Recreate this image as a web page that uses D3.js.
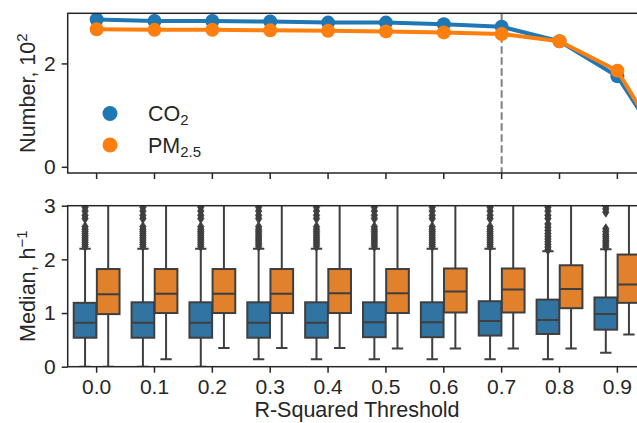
<!DOCTYPE html>
<html>
<head>
<meta charset="utf-8">
<script src="https://cdn.jsdelivr.net/npm/d3@7"></script>
<style>
  html, body { margin: 0; padding: 0; background: #fff; }
  svg { display: block; font-family: "Liberation Sans", Arial, sans-serif; }
</style>
</head>
<body>
<svg id="chart" width="637" height="423"></svg>
<script>
// ---------------- DATA ----------------
const thresholds = ["0.0","0.1","0.2","0.3","0.4","0.5","0.6","0.7","0.8","0.9"];
// Top panel: number of series (×10²) kept at each R² threshold (1.0 lies just past the right edge)
const countThresholds = [0.0,0.1,0.2,0.3,0.4,0.5,0.6,0.7,0.8,0.9,1.0];
const co2Count = [2.85,2.82,2.82,2.81,2.79,2.79,2.76,2.71,2.43,1.75,0.02];
const pmCount  = [2.66,2.65,2.65,2.64,2.63,2.62,2.60,2.57,2.43,1.86,0.02];
const selectedThreshold = 0.7;

// Bottom panel: box statistics of the median rate (h⁻¹)
const co2Lo  = [0.00,0.00,0.00,0.14,0.14,0.14,0.14,0.14,0.14,0.26];
const co2Q1  = [0.54,0.54,0.54,0.54,0.54,0.55,0.55,0.58,0.61,0.69];
const co2Med = [0.82,0.82,0.82,0.82,0.82,0.83,0.83,0.85,0.87,0.98];
const co2Q3  = [1.19,1.20,1.20,1.20,1.20,1.20,1.20,1.22,1.25,1.29];
const co2Hi  = [2.20,2.20,2.20,2.20,2.20,2.20,2.20,2.20,2.15,2.19];
const co2Outliers = [
  [2.24,2.28,2.32,2.36,2.40,2.44,2.48,2.52,2.56,2.61,2.76,2.82,2.90,2.97],
  [2.24,2.28,2.32,2.36,2.40,2.44,2.48,2.52,2.56,2.61,2.76,2.82,2.90,2.97],
  [2.24,2.28,2.32,2.36,2.40,2.44,2.48,2.52,2.56,2.61,2.76,2.82,2.90,2.97],
  [2.24,2.28,2.32,2.36,2.40,2.44,2.48,2.52,2.56,2.61,2.76,2.82,2.90,2.97],
  [2.24,2.28,2.32,2.36,2.40,2.44,2.48,2.52,2.56,2.61,2.76,2.82,2.90,2.97],
  [2.24,2.28,2.32,2.36,2.40,2.44,2.48,2.52,2.56,2.61,2.76,2.82,2.90,2.97],
  [2.24,2.28,2.32,2.36,2.40,2.44,2.48,2.52,2.56,2.61,2.76,2.82,2.90,2.97],
  [2.24,2.28,2.32,2.36,2.40,2.44,2.48,2.52,2.56,2.61,2.76,2.82,2.90,2.97],
  [2.18,2.23,2.28,2.33,2.38,2.43,2.48,2.54,2.60,2.66,2.76,2.82,2.90,2.97],
  [2.23,2.27,2.31,2.35,2.39,2.43,2.47,2.52,2.57,2.88,2.94,2.99]
];
const pmLo  = [0.00,0.14,0.35,0.35,0.35,0.34,0.34,0.34,0.34,0.60];
const pmQ1  = [0.98,1.00,1.00,1.00,1.00,1.00,1.01,1.01,1.09,1.19];
const pmMed = [1.35,1.36,1.36,1.36,1.37,1.37,1.40,1.44,1.45,1.53];
const pmQ3  = [1.82,1.82,1.82,1.82,1.82,1.82,1.83,1.83,1.89,2.09];
const pmHi  = [3.30,3.30,3.30,3.30,3.30,3.30,3.30,3.30,3.30,3.30];

const yTicksTop = [0, 2];
const yTicksBottom = [0, 1, 2, 3];

// ---------------- LAYOUT ----------------
const svg = d3.select("#chart");
const L = 67.7, R = 646.3;
const T1 = 13.3, B1 = 173;
const T2 = 205.7, B2 = 366.7;
const axisColor = "#262626";
const boxEdge = "#3f3f3f";
const lineBlue = "#1f77b4", lineOrange = "#ff7f0e";
const boxBlue = "#3274a1", boxOrange = "#e1812c";
const fsTick = 21, fsLabel = 21.5, fsSup = 15;

const xBand = d3.scaleBand().domain(thresholds).range([L, R]).padding(0);
const xLin = d3.scaleLinear().domain([-0.05, 0.95]).range([L, R]);
const y1 = d3.scaleLinear().domain([-0.12, 2.97]).range([B1, T1]);
const y2 = d3.scaleLinear().domain([0, 3]).range([B2, T2]);

const defs = svg.append("defs");
defs.append("clipPath").attr("id", "clipTop").append("rect")
  .attr("x", L).attr("y", T1).attr("width", R - L).attr("height", B1 - T1);
defs.append("clipPath").attr("id", "clipBot").append("rect")
  .attr("x", L).attr("y", T2).attr("width", R - L).attr("height", B2 - T2);

// ---------------- TOP PANEL ----------------
const topG = svg.append("g");
const topPlot = topG.append("g").attr("clip-path", "url(#clipTop)");

topPlot.append("line")
  .attr("x1", xLin(selectedThreshold)).attr("x2", xLin(selectedThreshold))
  .attr("y1", T1).attr("y2", B1)
  .attr("stroke", "#7f7f7f").attr("stroke-width", 2)
  .attr("stroke-dasharray", "7.5,3.5");

const lineGen = d3.line().x((d, i) => xLin(countThresholds[i])).y(d => y1(d));
[[co2Count, lineBlue], [pmCount, lineOrange]].forEach(([vals, col]) => {
  topPlot.append("path").datum(vals)
    .attr("d", lineGen).attr("fill", "none")
    .attr("stroke", col).attr("stroke-width", 4).attr("stroke-linejoin", "round");
  topPlot.selectAll(null).data(vals).enter().append("circle")
    .attr("cx", (d, i) => xLin(countThresholds[i])).attr("cy", d => y1(d))
    .attr("r", 7).attr("fill", col);
});

topG.append("rect").attr("x", L).attr("y", T1).attr("width", R - L).attr("height", B1 - T1)
  .attr("fill", "none").attr("stroke", axisColor).attr("stroke-width", 1.5);

topG.append("g").attr("transform", `translate(${L},0)`)
  .call(d3.axisLeft(y1).tickValues(yTicksTop).tickSize(6).tickPadding(6).tickFormat(d3.format("d")));
topG.append("g").attr("transform", `translate(0,${B1})`)
  .call(d3.axisBottom(xBand).tickSize(6).tickFormat(""));

const yl1 = topG.append("text")
  .attr("transform", `translate(35,${(T1 + B1) / 2}) rotate(-90)`)
  .attr("text-anchor", "middle").attr("font-size", fsLabel).attr("fill", axisColor);
yl1.append("tspan").text("Number, 10");
yl1.append("tspan").attr("font-size", fsSup).attr("dy", -8).text("2");

const legend = topG.append("g");
const legItems = [
  { col: lineBlue, main: "CO", sub: "2", y: 113.5 },
  { col: lineOrange, main: "PM", sub: "2.5", y: 145 }
];
legItems.forEach(it => {
  legend.append("circle").attr("cx", 110).attr("cy", it.y).attr("r", 7.5).attr("fill", it.col);
  const t = legend.append("text").attr("x", 148).attr("y", it.y + 7.5)
    .attr("font-size", fsLabel).attr("fill", axisColor);
  t.append("tspan").text(it.main);
  t.append("tspan").attr("font-size", fsSup).attr("dy", 4).text(it.sub);
});

// ---------------- BOTTOM PANEL ----------------
const botG = svg.append("g");
const botPlot = botG.append("g").attr("clip-path", "url(#clipBot)");
const step = xBand.bandwidth();
const bw = step * 0.392;

function drawBoxes(lo, q1, med, q3, hi, outl, fill, offset) {
  thresholds.forEach((cat, i) => {
    const cx = xBand(cat) + step / 2 + offset * step;
    const g = botPlot.append("g");
    g.append("line").attr("x1", cx).attr("x2", cx).attr("y1", y2(q3[i])).attr("y2", y2(hi[i]))
      .attr("stroke", boxEdge).attr("stroke-width", 2);
    g.append("line").attr("x1", cx).attr("x2", cx).attr("y1", y2(q1[i])).attr("y2", y2(lo[i]))
      .attr("stroke", boxEdge).attr("stroke-width", 2);
    [lo[i], hi[i]].forEach(v => {
      g.append("line").attr("x1", cx - bw / 4).attr("x2", cx + bw / 4)
        .attr("y1", y2(v)).attr("y2", y2(v))
        .attr("stroke", boxEdge).attr("stroke-width", 2);
    });
    g.append("rect").attr("x", cx - bw / 2).attr("y", y2(q3[i]))
      .attr("width", bw).attr("height", y2(q1[i]) - y2(q3[i]))
      .attr("fill", fill).attr("stroke", boxEdge).attr("stroke-width", 2);
    g.append("line").attr("x1", cx - bw / 2).attr("x2", cx + bw / 2)
      .attr("y1", y2(med[i])).attr("y2", y2(med[i]))
      .attr("stroke", boxEdge).attr("stroke-width", 2);
    if (outl) {
      g.selectAll(null).data(outl[i]).enter().append("path")
        .attr("d", "M0,-5L3.2,0L0,5L-3.2,0Z")
        .attr("transform", d => `translate(${cx},${y2(d)})`)
        .attr("fill", boxEdge).attr("stroke", boxEdge).attr("stroke-width", 0.8);
    }
  });
}
drawBoxes(co2Lo, co2Q1, co2Med, co2Q3, co2Hi, co2Outliers, boxBlue, -0.2);
drawBoxes(pmLo, pmQ1, pmMed, pmQ3, pmHi, null, boxOrange, 0.2);

botG.append("rect").attr("x", L).attr("y", T2).attr("width", R - L).attr("height", B2 - T2)
  .attr("fill", "none").attr("stroke", axisColor).attr("stroke-width", 1.5);

botG.append("g").attr("transform", `translate(${L},0)`)
  .call(d3.axisLeft(y2).tickValues(yTicksBottom).tickSize(6).tickPadding(6).tickFormat(d3.format("d")));
botG.append("g").attr("transform", `translate(0,${B2})`)
  .call(d3.axisBottom(xBand).tickSize(6).tickPadding(6));

const yl2 = botG.append("text")
  .attr("transform", `translate(35,${(T2 + B2) / 2}) rotate(-90)`)
  .attr("text-anchor", "middle").attr("font-size", fsLabel).attr("fill", axisColor);
yl2.append("tspan").text("Median, h");
yl2.append("tspan").attr("font-size", fsSup).attr("dy", -8).text("\u22121");

botG.append("text").attr("x", (L + R) / 2).attr("y", 417)
  .attr("text-anchor", "middle").attr("font-size", fsLabel).attr("fill", axisColor)
  .text("R-Squared Threshold");

svg.selectAll(".domain").remove();
svg.selectAll(".tick line").attr("stroke", axisColor).attr("stroke-width", 1.5);
svg.selectAll(".tick text").attr("font-size", fsTick).attr("fill", axisColor)
  .attr("font-family", "Liberation Sans, Arial, sans-serif");
</script>
</body>
</html>
